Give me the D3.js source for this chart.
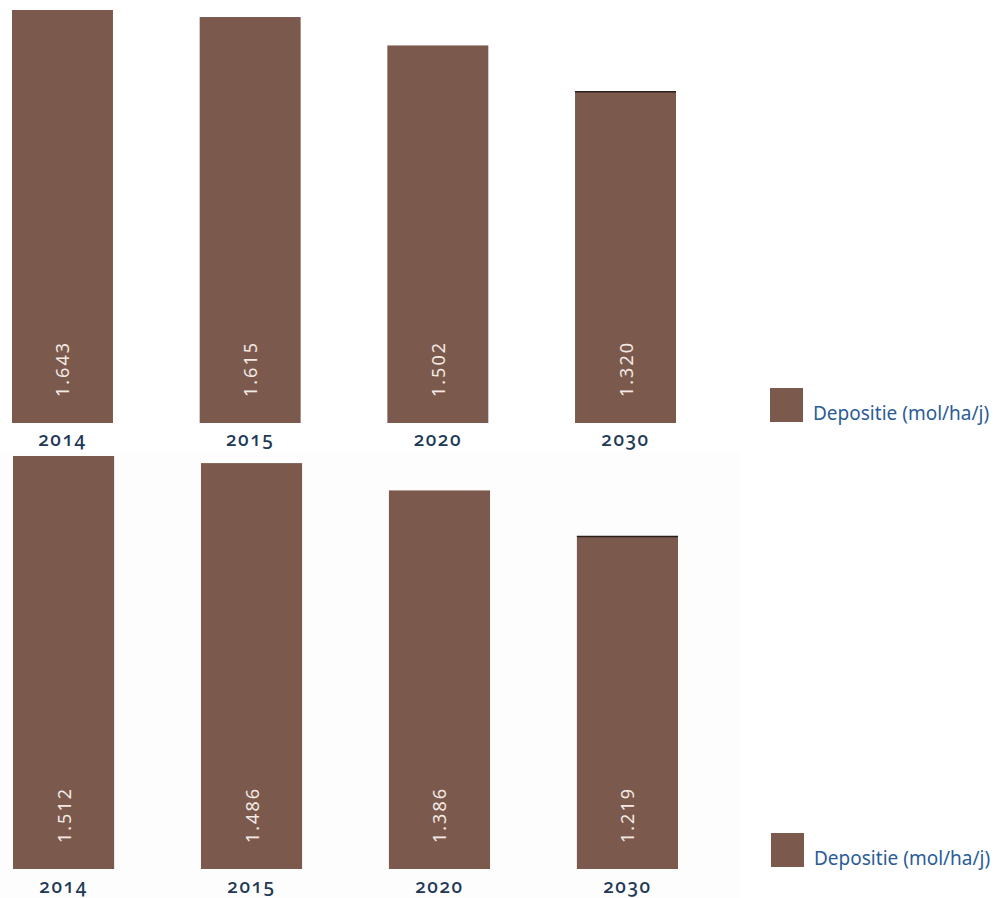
<!DOCTYPE html>
<html>
<head>
<meta charset="utf-8">
<script src="https://cdn.jsdelivr.net/npm/d3@7"></script>
<style>
  body { margin: 0; background: #fff; }
  svg { display: block; }
  .year { font-family: "Noto Sans", sans-serif; font-variant-numeric: oldstyle-nums; }
  .val { font-family: "Noto Sans", sans-serif; }
</style>
</head>
<body>
<svg id="chart" width="1002" height="898"></svg>
<script>
var years = ["2014", "2015", "2020", "2030"];
var topValues = [1643, 1615, 1502, 1320];
var bottomValues = [1512, 1486, 1386, 1219];
var legendLabel = "Depositie (mol/ha/j)";

var barColor = "#7b5a4d";
var svg = d3.select("#chart");

// bottom panel has a faint off-white backdrop
svg.append("rect")
    .attr("x", 0).attr("y", 452)
    .attr("width", 740).attr("height", 446)
    .attr("fill", "#fdfdfd");

function drawPanel(values, opts) {
    var g = svg.append("g");

    var xScale = d3.scaleBand()
        .domain(years)
        .range([opts.x0, opts.x1])
        .paddingInner(0.462)
        .paddingOuter(0);

    var yScale = d3.scaleLinear()
        .domain([0, d3.max(values)])
        .range([opts.bottom, opts.top]);

    var data = years.map(function (y, i) { return { year: y, value: values[i] }; });

    var groups = g.selectAll("g.bar")
        .data(data)
        .enter()
        .append("g")
        .attr("class", "bar");

    groups.append("rect")
        .attr("x", function (d) { return xScale(d.year); })
        .attr("y", function (d) { return yScale(d.value); })
        .attr("width", xScale.bandwidth())
        .attr("height", function (d) { return opts.bottom - yScale(d.value); })
        .attr("fill", barColor);

    // thin dark edge on the last bar's top
    g.append("line")
        .attr("x1", xScale("2030"))
        .attr("x2", xScale("2030") + xScale.bandwidth())
        .attr("y1", yScale(values[3]) + 0.5)
        .attr("y2", yScale(values[3]) + 0.5)
        .attr("stroke", "#2a1e1a")
        .attr("stroke-width", 1.5);

    groups.append("text")
        .attr("class", "val")
        .attr("transform", function (d) {
            var cx = xScale(d.year) + xScale.bandwidth() / 2 + 7;
            return "translate(" + cx + "," + (opts.bottom - 26) + ") rotate(-90)";
        })
        .attr("font-size", "18px")
        .attr("letter-spacing", "2px")
        .attr("fill", "#f3e9e4")
        .text(function (d) { return d3.format(".3f")(d.value / 1000); });

    g.selectAll("text.year")
        .data(years)
        .enter()
        .append("text")
        .attr("class", "year")
        .attr("x", function (d) { return xScale(d) + xScale.bandwidth() / 2; })
        .attr("y", opts.labelY)
        .attr("text-anchor", "middle")
        .attr("font-size", "19px")
        .attr("font-weight", "500")
        .attr("letter-spacing", "1.5px")
        .attr("fill", "#213856")
        .text(function (d) { return d; });

    g.append("rect")
        .attr("x", opts.legX)
        .attr("y", opts.legY)
        .attr("width", 33)
        .attr("height", 34)
        .attr("fill", barColor);

    g.append("text")
        .attr("x", opts.legX + 43)
        .attr("y", opts.legY + 32)
        .attr("font-family", "'Noto Sans', sans-serif")
        .attr("font-size", "19px")
        .attr("fill", "#2b5c97")
        .text(legendLabel);
}

drawPanel(topValues, { x0: 12, x1: 676, top: 10, bottom: 423, labelY: 446, legX: 770, legY: 388 });
drawPanel(bottomValues, { x0: 13, x1: 678, top: 456, bottom: 869, labelY: 893, legX: 771, legY: 833 });
</script>
</body>
</html>
